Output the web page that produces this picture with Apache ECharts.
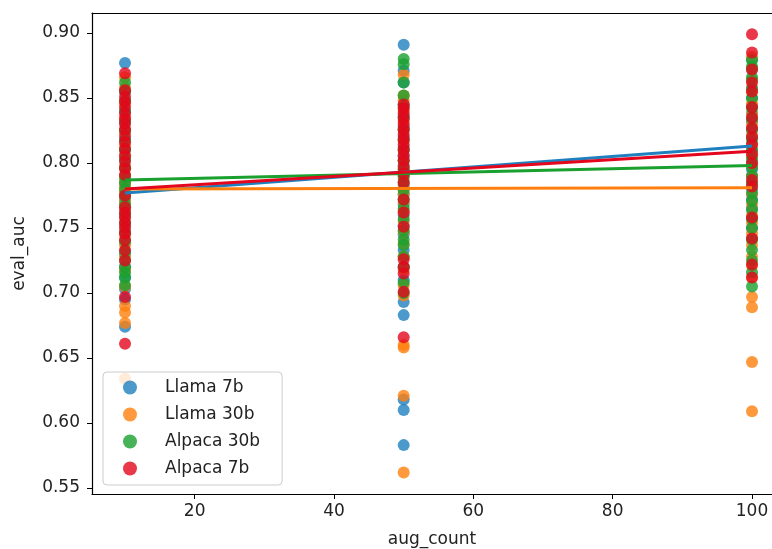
<!DOCTYPE html>
<html>
<head>
<meta charset="utf-8">
<script src="https://cdn.jsdelivr.net/npm/echarts@6/dist/echarts.min.js"></script>
<style>
  html, body { margin: 0; padding: 0; background: #fff; }
  #chart { width: 772px; height: 549px; }
</style>
</head>
<body>
<div id="chart"></div>
<script>
// aug_count categories on the x axis
var augCounts = [10, 50, 100];

// eval_auc values per model and aug_count
var llama7b_10  = [0.877, 0.855, 0.848, 0.84, 0.832, 0.825, 0.818, 0.81, 0.803, 0.797, 0.79, 0.784, 0.777, 0.771, 0.765, 0.759, 0.752, 0.746, 0.739, 0.73, 0.72, 0.712, 0.703, 0.695, 0.674];
var llama7b_50  = [0.891, 0.871, 0.862, 0.845, 0.836, 0.828, 0.82, 0.812, 0.805, 0.798, 0.79, 0.783, 0.776, 0.768, 0.76, 0.752, 0.745, 0.733, 0.72, 0.71, 0.693, 0.683, 0.618, 0.61, 0.583];
var llama7b_100 = [0.88, 0.872, 0.864, 0.856, 0.85, 0.844, 0.838, 0.832, 0.826, 0.82, 0.815, 0.81, 0.805, 0.8, 0.795, 0.79, 0.785, 0.78, 0.772, 0.765, 0.758, 0.75, 0.742];

var llama30b_10  = [0.866, 0.858, 0.846, 0.835, 0.824, 0.814, 0.805, 0.797, 0.79, 0.786, 0.782, 0.778, 0.774, 0.77, 0.766, 0.76, 0.753, 0.745, 0.737, 0.728, 0.718, 0.705, 0.69, 0.685, 0.677, 0.634];
var llama30b_50  = [0.868, 0.852, 0.848, 0.84, 0.832, 0.825, 0.817, 0.81, 0.802, 0.795, 0.788, 0.781, 0.776, 0.77, 0.763, 0.755, 0.747, 0.738, 0.728, 0.718, 0.706, 0.698, 0.66, 0.658, 0.621, 0.562];
var llama30b_100 = [0.882, 0.873, 0.864, 0.855, 0.846, 0.838, 0.83, 0.822, 0.814, 0.806, 0.798, 0.79, 0.783, 0.776, 0.768, 0.76, 0.754, 0.746, 0.737, 0.728, 0.721, 0.712, 0.697, 0.689, 0.647, 0.609];

var alpaca30b_10  = [0.862, 0.855, 0.848, 0.84, 0.832, 0.825, 0.818, 0.81, 0.803, 0.796, 0.789, 0.785, 0.78, 0.774, 0.768, 0.761, 0.754, 0.747, 0.74, 0.732, 0.725, 0.72, 0.716, 0.712, 0.706];
var alpaca30b_50  = [0.88, 0.876, 0.862, 0.852, 0.843, 0.835, 0.826, 0.818, 0.81, 0.802, 0.795, 0.79, 0.785, 0.779, 0.772, 0.765, 0.757, 0.748, 0.741, 0.737, 0.728, 0.72, 0.708, 0.7];
var alpaca30b_100 = [0.879, 0.874, 0.866, 0.858, 0.85, 0.842, 0.834, 0.826, 0.818, 0.81, 0.803, 0.797, 0.79, 0.784, 0.777, 0.771, 0.764, 0.757, 0.75, 0.741, 0.733, 0.725, 0.716, 0.705];

var alpaca7b_10  = [0.869, 0.856, 0.851, 0.847, 0.843, 0.838, 0.834, 0.83, 0.826, 0.821, 0.816, 0.811, 0.806, 0.801, 0.796, 0.791, 0.775, 0.766, 0.762, 0.758, 0.754, 0.75, 0.746, 0.741, 0.733, 0.725, 0.697, 0.661];
var alpaca7b_50  = [0.845, 0.842, 0.838, 0.834, 0.83, 0.826, 0.822, 0.818, 0.814, 0.81, 0.806, 0.802, 0.797, 0.792, 0.785, 0.772, 0.762, 0.751, 0.726, 0.72, 0.715, 0.701, 0.666];
var alpaca7b_100 = [0.899, 0.885, 0.872, 0.862, 0.855, 0.843, 0.835, 0.827, 0.82, 0.814, 0.807, 0.8, 0.787, 0.782, 0.758, 0.742, 0.722, 0.712];

// regression fit lines, value at aug_count 10 and 100
var fitX = [10, 100];
var fitLlama7b   = [0.777, 0.813];
var fitLlama30b  = [0.780, 0.781];
var fitAlpaca30b = [0.787, 0.798];
var fitAlpaca7b  = [0.780, 0.809];

var names  = ['Llama 7b', 'Llama 30b', 'Alpaca 30b', 'Alpaca 7b'];
var colors = ['#1f80bf', '#ff7f0e', '#19a02f', '#e3061d'];

function pts(cols){
    var out = [];
    for (var i = 0; i < cols.length; i++) {
        for (var j = 0; j < cols[i].length; j++) {
            out.push([augCounts[i], cols[i][j]]);
        }
    }
    return out;
}
function fitPts(v){
    return [[fitX[0], v[0]], [fitX[1], v[1]]];
}

var scatterSets = [
    pts([llama7b_10, llama7b_50, llama7b_100]),
    pts([llama30b_10, llama30b_50, llama30b_100]),
    pts([alpaca30b_10, alpaca30b_50, alpaca30b_100]),
    pts([alpaca7b_10, alpaca7b_50, alpaca7b_100])
];
var fitSets = [fitLlama7b, fitLlama30b, fitAlpaca30b, fitAlpaca7b];

var series = [];
for (var k = 0; k < names.length; k++) {
    series.push({
        name: names[k],
        type: 'scatter',
        symbolSize: 12,
        itemStyle: {color: colors[k], opacity: 0.8},
        data: scatterSets[k]
    });
    series.push({
        name: names[k] + ' fit',
        type: 'line',
        symbol: 'none',
        lineStyle: {color: colors[k], width: 3},
        data: fitPts(fitSets[k])
    });
}

var txt = '#222';
var spine = {show: true, onZero: false, lineStyle: {color: '#000', width: 1.2}};
var myChart = echarts.init(document.getElementById('chart'));
var option = {
    backgroundColor: '#fff',
    animation: false,
    textStyle: {fontFamily: 'DejaVu Sans'},
    // the right spine is cut off by the picture edge, so no grid border
    grid: {left: 92, top: 13, right: 0, bottom: 55, containLabel: false, outerBoundsMode: 'none'},
    legend: {
        data: names.map(function(n){ return {name: n, icon: 'circle'}; }),
        orient: 'vertical',
        left: 103, top: 372,
        itemWidth: 14, itemHeight: 14,
        itemGap: 10,
        padding: [7, 22, 8, 20],
        backgroundColor: 'rgba(255,255,255,0.8)',
        borderColor: '#ccc', borderWidth: 1, borderRadius: 4,
        textStyle: {fontSize: 17, color: txt, padding: [0, 0, 0, 23], fontFamily: 'DejaVu Sans'}
    },
    xAxis: [{
        type: 'value',
        min: 5.26, max: 102.87,
        splitNumber: 5,
        name: 'aug_count',
        nameLocation: 'middle',
        nameGap: 37,
        nameTextStyle: {fontSize: 17, color: txt, verticalAlign: 'top'},
        axisLine: spine,
        axisTick: {show: true, length: 5, lineStyle: {color: '#000'}},
        axisLabel: {fontSize: 17, color: txt, margin: 9, showMinLabel: false, showMaxLabel: false},
        splitLine: {show: false}
    }, {
        type: 'value',
        position: 'top',
        min: 5.26, max: 102.87,
        axisLine: spine,
        axisTick: {show: false},
        axisLabel: {show: false},
        splitLine: {show: false}
    }],
    yAxis: {
        type: 'value',
        min: 0.5454, max: 0.9154,
        splitNumber: 7,
        name: 'eval_auc',
        nameLocation: 'middle',
        nameGap: 64,
        nameTextStyle: {fontSize: 17, color: txt},
        axisLine: spine,
        axisTick: {show: true, length: 5, lineStyle: {color: '#000'}},
        axisLabel: {
            fontSize: 17, color: txt, margin: 12,
            showMinLabel: false, showMaxLabel: false,
            formatter: function(v){ return v.toFixed(2); }
        },
        splitLine: {show: false}
    },
    series: series
};
myChart.setOption(option, true);
</script>
</body>
</html>
